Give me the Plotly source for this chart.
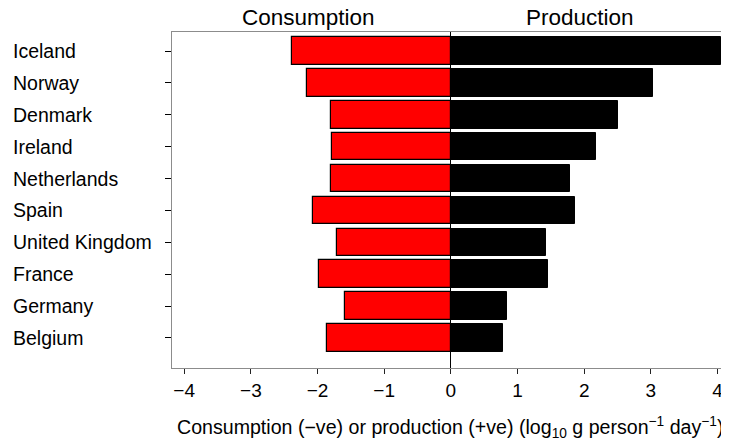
import plotly.graph_objects as go

countries = ["Iceland", "Norway", "Denmark", "Ireland", "Netherlands",
             "Spain", "United Kingdom", "France", "Germany", "Belgium"]
consumption = [-2.39, -2.165, -1.795, -1.785, -1.805, -2.07, -1.715, -1.975, -1.585, -1.855]
production = [4.05, 3.025, 2.51, 2.18, 1.78, 1.865, 1.42, 1.45, 0.845, 0.775]
x_ticks = [-4, -3, -2, -1, 0, 1, 2, 3, 4]

pos = list(range(len(countries)))
FONT = "Arial, Liberation Sans, Helvetica, sans-serif"

# the page body adds an 8px offset; the figure is sized so it ends at the window edge
fig = go.Figure()
fig.add_trace(go.Bar(y=pos, x=consumption, orientation="h", width=0.86,
                     marker=dict(color="#FF0000", line=dict(color="#000000", width=1.2)),
                     name="Consumption", showlegend=False))
fig.add_trace(go.Bar(y=pos, x=production, orientation="h", width=0.86,
                     marker=dict(color="#000000", line=dict(color="#000000", width=1)),
                     name="Production", showlegend=False))

annotations = []
for p, c in zip(pos, countries):
    annotations.append(dict(x=-0.2886, xref="paper", y=p, yref="y", text=c,
                            showarrow=False, xanchor="left", yanchor="middle",
                            font=dict(family=FONT, size=19.5, color="#000000")))
annotations.append(dict(x=-2.14, xref="x", y=1.0, yref="paper", yshift=15, text="Consumption",
                        showarrow=False, xanchor="center", yanchor="middle",
                        font=dict(family=FONT, size=22.5, color="#000000")))
annotations.append(dict(x=1.94, xref="x", y=1.0, yref="paper", yshift=15, text="Production",
                        showarrow=False, xanchor="center", yanchor="middle",
                        font=dict(family=FONT, size=22.5, color="#000000")))
annotations.append(dict(x=0.5, xref="paper", y=0.0, yref="paper", yshift=-59,
                        text="Consumption (−ve) or production (+ve) (log<sub>10</sub> g person<sup>−1</sup> day<sup>−1</sup>)",
                        showarrow=False, xanchor="center", yanchor="middle",
                        font=dict(family=FONT, size=19.6, color="#000000")))

fig.update_layout(
    width=721, height=437,
    margin=dict(l=164, r=0, t=24, b=77, pad=0),
    paper_bgcolor="white", plot_bgcolor="white",
    barmode="relative", bargap=0,
    annotations=annotations,
    font=dict(family=FONT, size=19, color="#000000"),
)
fig.update_xaxes(range=[-4.183, 4.172], tickvals=x_ticks, ticks="outside", ticklen=5,
                 tickcolor="#222222", tickwidth=1,
                 showline=True, linecolor="#8c8c8c", linewidth=1, mirror=True,
                 showgrid=False, zeroline=True, zerolinecolor="#000000", zerolinewidth=1,
                 tickfont=dict(family=FONT, size=19, color="#000000"))
fig.update_yaxes(range=[9.944, -0.60], tickvals=pos, showticklabels=False,
                 ticks="outside", ticklen=6, tickcolor="#000000", tickwidth=1,
                 showline=True, linecolor="#8c8c8c", linewidth=1,
                 showgrid=False, zeroline=False)

fig.write_html("out.html")
